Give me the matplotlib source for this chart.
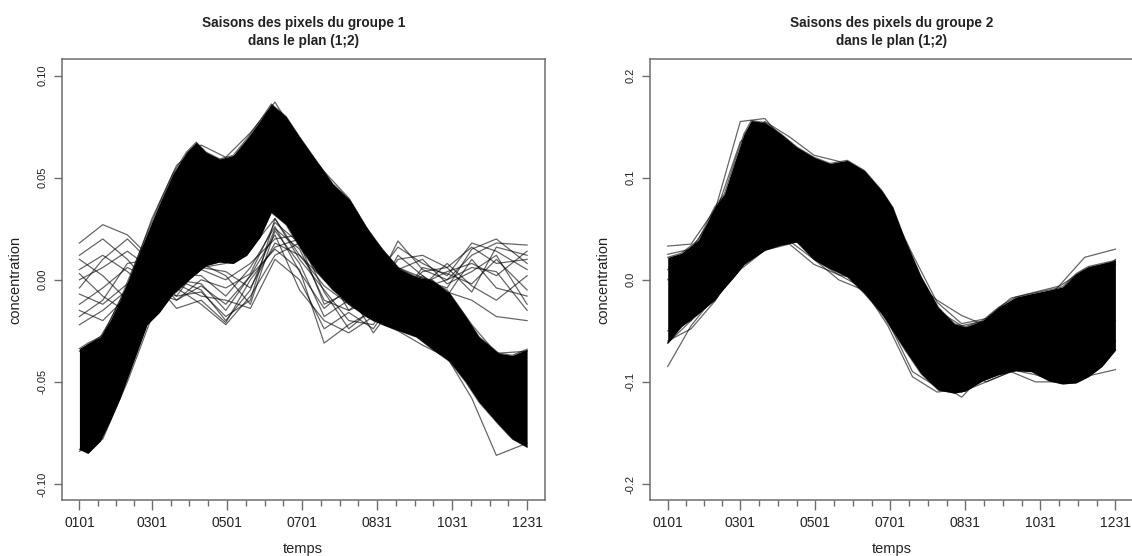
import matplotlib
matplotlib.use("Agg")
import matplotlib.pyplot as plt
import numpy as np

plt.rcParams["font.family"] = ["Liberation Sans", "DejaVu Sans"]

# ── Données ────────────────────────────────────────────────────────────────
MONTH_DAYS = [1, 60, 121, 182, 243, 304, 365]
MONTH_LABELS = ["0101", "0301", "0501", "0701", "0831", "1031", "1231"]

# groupe 1 : enveloppe du faisceau dense
G1_DAYS = [1, 8, 18, 26, 34, 45, 56, 66, 77, 88, 96, 104, 115, 126, 137, 148, 157,
           169, 180, 194, 207, 221, 234, 248, 261, 275, 288, 302, 315, 326, 342, 353, 365]
G1_UPPER = [-0.0337, -0.031, -0.028, -0.020, -0.010, 0.0063, 0.0226, 0.0372, 0.0519,
            0.0625, 0.0674, 0.0625, 0.0592, 0.0609, 0.0690, 0.0780, 0.0861, 0.0800,
            0.0700, 0.0580, 0.0470, 0.0390, 0.0260, 0.0144, 0.0055, 0.0014, -0.0002,
            -0.0068, -0.0180, -0.0280, -0.0360, -0.0370, -0.0340]
G1_LOWER = [-0.083, -0.085, -0.079, -0.069, -0.058, -0.040, -0.022, -0.016, -0.007,
            -0.001, 0.003, 0.007, 0.0087, 0.008, 0.012, 0.021, 0.033, 0.027, 0.016,
            0.004, -0.005, -0.012, -0.018, -0.022, -0.025, -0.028, -0.034, -0.040,
            -0.050, -0.060, -0.071, -0.078, -0.082]

# groupe 2 : enveloppe du faisceau dense
G2_DAYS = [1, 12, 26, 39, 47, 55, 63, 69, 80, 93, 106, 120, 133, 147, 161, 175, 184,
           194, 207, 221, 234, 243, 257, 270, 284, 297, 311, 322, 333, 343, 354, 365]
G2_UPPER = [0.022, 0.026, 0.039, 0.071, 0.084, 0.114, 0.143, 0.156, 0.154, 0.143,
            0.130, 0.120, 0.114, 0.117, 0.107, 0.0875, 0.071, 0.039, 0.003, -0.027,
            -0.043, -0.046, -0.040, -0.027, -0.017, -0.0135, -0.010, -0.007, 0.006,
            0.013, 0.016, 0.019]
G2_LOWER = [-0.062, -0.046, -0.033, -0.020, -0.008, 0.003, 0.015, 0.020, 0.029, 0.034,
            0.037, 0.020, 0.011, 0.003, -0.0135, -0.033, -0.050, -0.069, -0.092, -0.108,
            -0.111, -0.109, -0.099, -0.093, -0.089, -0.090, -0.099, -0.102, -0.101,
            -0.095, -0.085, -0.069]

# courbes isolées (hors du faisceau) et brins de bord
OUT_DAYS = [1, 20, 40, 60, 80, 100, 120, 140, 160, 180, 200, 220, 240, 260, 280, 300, 320, 340, 365]
G1_OUTLIERS = [
    [0.018, 0.027, 0.022, 0.010, 0.000, -0.005, -0.020, -0.005, 0.025, 0.015, -0.010, -0.015, -0.005, 0.019, 0.005, 0.000, 0.012, 0.018, 0.017],
    [0.005, 0.012, 0.004, -0.006, -0.010, -0.003, -0.012, 0.002, 0.015, 0.005, -0.031, -0.022, -0.015, -0.008, 0.004, 0.006, 0.016, 0.008, 0.010],
    [-0.007, -0.012, -0.002, 0.004, -0.008, -0.006, -0.018, -0.010, 0.030, 0.010, -0.005, -0.020, -0.022, -0.002, 0.000, -0.004, 0.015, 0.020, 0.008],
    [-0.015, -0.020, -0.008, -0.003, 0.002, 0.005, 0.000, 0.008, 0.020, 0.022, 0.000, -0.012, -0.020, -0.018, -0.003, 0.008, -0.003, -0.010, 0.002],
    [0.000, 0.006, 0.014, 0.005, -0.004, -0.012, -0.022, -0.008, 0.012, 0.018, -0.012, -0.006, -0.026, -0.010, 0.006, 0.003, -0.002, 0.010, -0.005],
    [-0.022, -0.015, -0.005, 0.002, -0.010, 0.000, -0.004, 0.003, 0.028, 0.018, 0.006, -0.015, -0.010, 0.012, 0.002, -0.006, -0.010, -0.018, -0.020],
    [0.010, 0.002, -0.010, -0.012, -0.006, 0.006, 0.004, -0.004, 0.018, 0.012, 0.000, -0.008, -0.012, -0.004, -0.002, 0.004, 0.008, 0.002, 0.014],
    [-0.004, 0.010, 0.020, 0.008, 0.000, -0.002, -0.015, 0.002, 0.022, -0.005, -0.020, -0.026, -0.018, 0.005, 0.010, -0.002, 0.004, 0.012, -0.012],
    [0.012, 0.020, 0.010, -0.004, -0.008, 0.008, 0.002, -0.012, 0.024, 0.008, -0.018, -0.010, 0.000, 0.016, 0.008, 0.002, 0.018, 0.014, 0.005],
    [-0.012, -0.004, 0.006, 0.000, -0.014, -0.010, -0.021, 0.000, 0.016, 0.020, -0.006, -0.024, -0.014, 0.000, -0.004, 0.000, 0.006, 0.004, -0.015],
    [0.003, -0.008, -0.016, -0.006, 0.003, 0.002, -0.008, 0.006, 0.026, 0.004, -0.014, -0.004, -0.008, 0.010, 0.012, 0.006, -0.006, 0.016, 0.012],
    [-0.018, -0.010, 0.008, 0.010, -0.002, -0.008, -0.010, -0.014, 0.010, 0.000, -0.024, -0.016, -0.024, -0.006, 0.002, -0.008, 0.010, -0.004, -0.008],
    [-0.035, -0.027, -0.003, 0.030, 0.056, 0.066, 0.060, 0.072, 0.087, 0.068, 0.053, 0.040, 0.020, 0.006, 0.001, -0.005, -0.022, -0.036, -0.035],
    [-0.084, -0.078, -0.050, -0.018, -0.004, 0.006, 0.008, 0.015, 0.030, 0.012, -0.003, -0.012, -0.020, -0.025, -0.032, -0.038, -0.058, -0.086, -0.080],
]
G2_OUTLIERS = [
    [-0.085, -0.045, -0.015, 0.060, 0.100, 0.090, 0.070, 0.060, 0.040, 0.000, -0.050, -0.070, -0.060, -0.050, -0.030, -0.030, -0.005, 0.022, 0.030],
    [0.033, 0.035, 0.070, 0.155, 0.158, 0.130, 0.110, 0.100, 0.080, 0.040, -0.010, -0.050, -0.090, -0.100, -0.090, -0.085, -0.090, -0.095, -0.088],
    [-0.050, -0.040, 0.000, 0.050, 0.050, 0.045, 0.020, 0.005, 0.000, -0.030, -0.070, -0.100, -0.115, -0.090, -0.070, -0.060, -0.045, -0.010, 0.020],
    [0.000, 0.020, 0.050, 0.120, 0.140, 0.120, 0.100, 0.080, 0.060, 0.030, -0.020, -0.030, -0.045, -0.040, -0.050, -0.065, -0.060, 0.000, 0.015],
    [-0.060, -0.048, -0.020, 0.020, 0.035, 0.038, 0.020, 0.000, -0.010, -0.040, -0.090, -0.105, -0.110, -0.100, -0.090, -0.100, -0.100, -0.090, -0.060],
    [0.025, 0.030, 0.065, 0.135, 0.155, 0.140, 0.122, 0.116, 0.104, 0.075, 0.025, -0.022, -0.043, -0.038, -0.018, -0.012, -0.006, 0.010, 0.018],
    [-0.062, -0.040, -0.018, 0.010, 0.029, 0.035, 0.015, 0.005, -0.008, -0.045, -0.095, -0.110, -0.107, -0.095, -0.088, -0.093, -0.101, -0.093, -0.068],
    [0.010, 0.020, 0.050, 0.100, 0.120, 0.100, 0.090, 0.080, 0.070, 0.040, 0.000, -0.020, -0.035, -0.045, -0.060, -0.070, -0.075, -0.060, -0.040],
]

AXIS_GREY = "#6e6e6e"
TEXT_COL = "#222222"


def draw_panel(ax, group, days, upper, lower, outliers, ylim, yticks, ylabels):
    ax.fill_between(days, lower, upper, color="black", linewidth=0)
    ax.plot(days, upper, color="black", lw=0.9, alpha=0.6)
    ax.plot(days, lower, color="black", lw=0.9, alpha=0.6)
    for curve in outliers:
        ax.plot(OUT_DAYS, curve, color="black", lw=0.9, alpha=0.6)

    pad = 0.04 * (365 - 1)
    ax.set_xlim(1 - pad, 365 + pad)
    ax.set_ylim(-ylim * 1.08, ylim * 1.08)

    minor = []
    for a, b in zip(MONTH_DAYS[:-1], MONTH_DAYS[1:]):
        minor.extend(np.linspace(a, b, 5)[1:-1])
    ax.set_xticks(MONTH_DAYS)
    ax.set_xticklabels(MONTH_LABELS)
    ax.set_xticks(minor, minor=True)
    ax.set_yticks(yticks)
    ax.set_yticklabels(ylabels, rotation=90, va="center")

    ax.tick_params(axis="x", which="major", length=7.5, width=1, color=AXIS_GREY,
                   labelsize=10, labelcolor=TEXT_COL, pad=3.5)
    ax.tick_params(axis="x", which="minor", length=4.5, width=1, color=AXIS_GREY)
    ax.tick_params(axis="y", length=6, width=1, color=AXIS_GREY,
                   labelsize=8, labelcolor=TEXT_COL, pad=4)
    for sp in ax.spines.values():
        sp.set_color(AXIS_GREY)
        sp.set_linewidth(1.1)

    ax.set_xlabel("temps", fontsize=10.5, color=TEXT_COL, va="center")
    ax.xaxis.set_label_coords(0.5, -0.110)
    ax.set_ylabel("concentration", fontsize=10.5, color=TEXT_COL, va="center")
    ax.yaxis.set_label_coords(-0.096, 0.5)

    ax.text(0.5, 1.062, f"Saisons des pixels du groupe {group}\ndans le plan (1;2)",
            transform=ax.transAxes, ha="center", va="center", fontsize=9.8,
            fontweight="bold", color=TEXT_COL, linespacing=1.35)


fig = plt.figure(figsize=(11.32, 5.56), dpi=100)
ax1 = fig.add_axes([0.05433, 0.1002, 0.42712, 0.7932])
ax2 = fig.add_axes([0.57403, 0.1002, 0.42712, 0.7932])

draw_panel(ax1, 1, G1_DAYS, G1_UPPER, G1_LOWER, G1_OUTLIERS, 0.10,
           [0.10, 0.05, 0.0, -0.05, -0.10], ["0.10", "0.05", "0.00", "-0.05", "-0.10"])
draw_panel(ax2, 2, G2_DAYS, G2_UPPER, G2_LOWER, G2_OUTLIERS, 0.20,
           [0.2, 0.1, 0.0, -0.1, -0.2], ["0.2", "0.1", "0.0", "-0.1", "-0.2"])

fig.savefig("out.png", dpi=100)
